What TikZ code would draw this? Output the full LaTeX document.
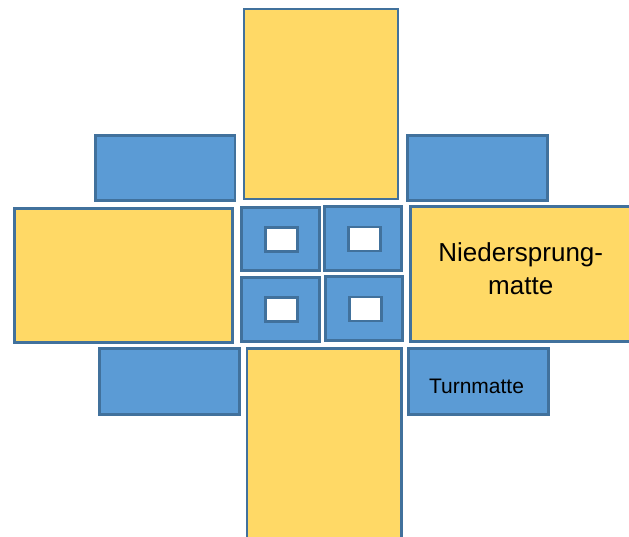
\documentclass[tikz,border=0pt]{standalone}
\usepackage{fontspec}
\setmainfont{Liberation Sans}
\definecolor{matyel}{HTML}{FFD966}
\definecolor{matblue}{HTML}{5B9BD5}
\definecolor{matedge}{HTML}{41719C}
\begin{document}
\begin{tikzpicture}[x=1pt,y=-1pt,
  mat/.style={draw=matedge,line width=2.8pt,inner sep=0pt,outer sep=0pt},
  yel/.style={mat,fill=matyel},
  blu/.style={mat,fill=matblue},
  lbl/.style={inner sep=0pt,align=center},
  hole/.style={draw=matedge,line width=2.8pt,fill=white,inner sep=0pt,outer sep=0pt,minimum width=32pt,minimum height=24pt}]
\useasboundingbox (0,0) rectangle (629,537);
% yellow landing mats
\node[yel,minimum width=154pt,minimum height=190pt] (top) at (321,104) {};
\node[yel,minimum width=218pt,minimum height=134pt] (left) at (123.5,275.5) {};
\node[yel,minimum width=220.5pt,minimum height=135pt] (right) at (520.75,274) {};
\node[yel,minimum width=154.5pt,minimum height=191.5pt] (bottom) at (324.25,444.25) {};
% blue corner mats
\node[blu,minimum width=139.5pt,minimum height=65pt] (tl) at (165.25,168) {};
\node[blu,minimum width=140pt,minimum height=65pt] (tr) at (477.5,168) {};
\node[blu,minimum width=140pt,minimum height=66pt] (bl) at (169.5,381.5) {};
\node[blu,minimum width=140pt,minimum height=66pt] (br) at (478.5,381.5) {};
% centre blocks
\node[blu,minimum width=78pt,minimum height=63pt] (ctl) at (280.5,239) {};
\node[blu,minimum width=77pt,minimum height=64pt] (ctr) at (363,238.5) {};
\node[blu,minimum width=78pt,minimum height=64pt] (cbl) at (280.5,309.5) {};
\node[blu,minimum width=77pt,minimum height=64pt] (cbr) at (364,308.5) {};
\node[hole] (htl) at (281.5,239.5) {};
\node[hole] (htr) at (364.5,239) {};
\node[hole] (hbl) at (281.5,309.5) {};
\node[hole] (hbr) at (365.5,309) {};
% labels
\node[lbl,font=\fontsize{26}{33}\selectfont] (rtext) at ([yshift=5pt]right.center) {Niedersprung-\\matte};
\node[lbl,font=\fontsize{21}{24}\selectfont] (brtext) at ([xshift=-2pt,yshift=-5pt]br.center) {Turnmatte};
\end{tikzpicture}
\end{document}
